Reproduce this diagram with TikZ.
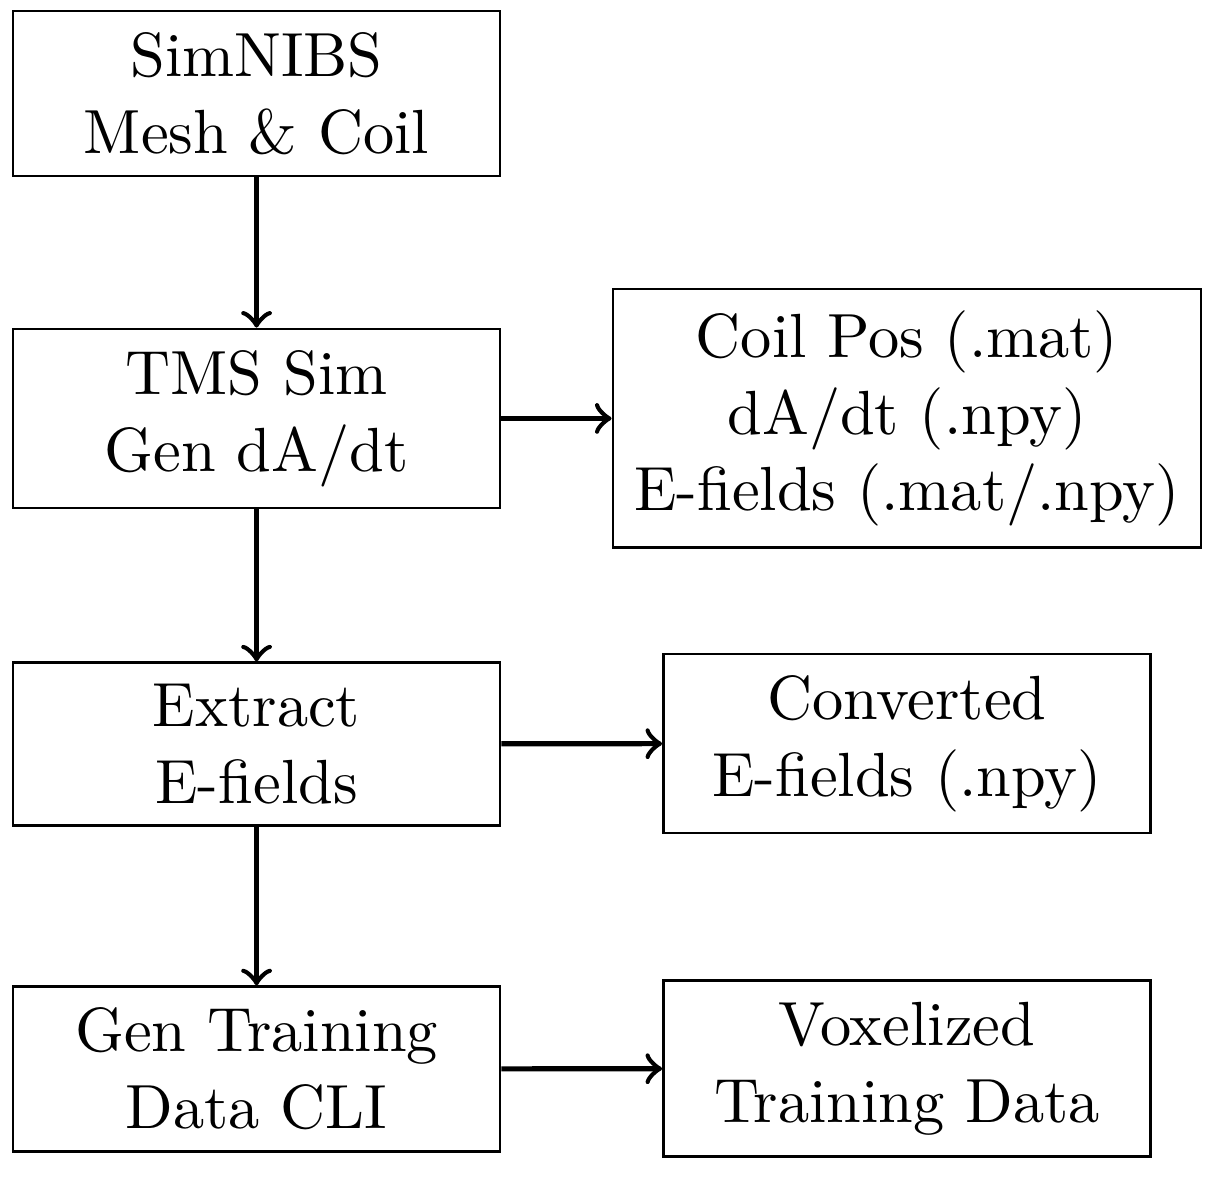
\documentclass[tikz,border=0pt]{standalone}
\usepackage{amsmath, amssymb, tikz}

\begin{document}
\begin{tikzpicture}[box/.style={draw, align=center, minimum width=2.675cm, font=\fontsize{9.75}{12}\selectfont},
                    arr/.style={->, thick}]
                \useasboundingbox (0,0) rectangle (6.733,-6.502);
                \node[box] (mesh) at (1.409,-0.514) {SimNIBS\\Mesh \& Coil};
                \node[box] (sim) at (1.409,-2.298) {TMS Sim\\Gen dA/dt};
                \node[box] (simout) at (4.981,-2.298) {Coil Pos (.mat)\\dA/dt (.npy)\\E-fields (.mat/.npy)};
                \node[box] (extract) at (1.409,-4.086) {Extract\\E-fields};
                \node[box] (extractout) at (4.981,-4.083) {Converted\\E-fields (.npy)};
                \node[box] (gen) at (1.409,-5.871) {Gen Training\\Data CLI};
                \node[box] (genout) at (4.981,-5.868) {Voxelized\\Training Data};
                \draw[arr] (mesh) -- (sim);
                \draw[arr] (sim) -- (extract);
                \draw[arr] (extract) -- (gen);
                \draw[arr] (sim) -- (simout);
                \draw[arr] (extract) -- (extractout);
                \draw[arr] (gen) -- (genout);
                % \draw[arr] (simout) -- (extractout);
            \end{tikzpicture}
\end{document}
